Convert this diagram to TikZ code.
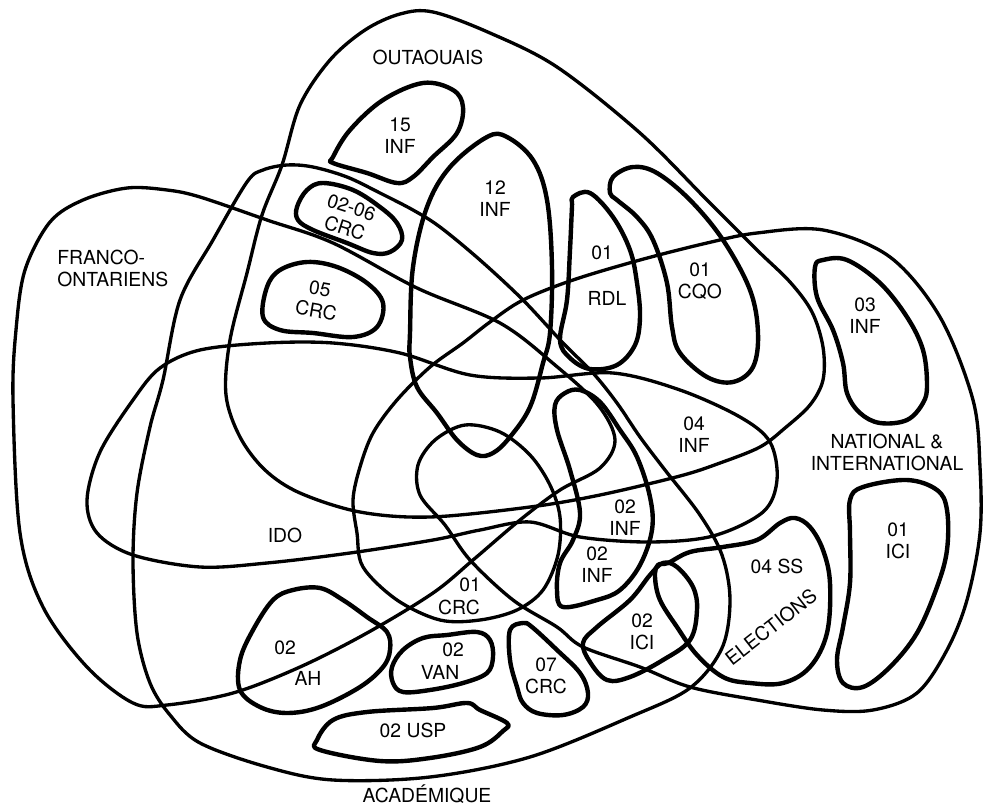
\documentclass[tikz,border=0pt]{standalone}
\usepackage{fontspec}
\setmainfont{TeX Gyre Heros}
\begin{document}
\begin{tikzpicture}[x=0.75pt,y=-0.75pt,line join=round,line cap=round]
\tikzset{
  big/.style={line width=2.5pt},
  blob/.style={line width=3.3pt},
  lbl/.style={font=\fontsize{14.5}{16.5}\selectfont,align=center,inner sep=0pt}
}
\useasboundingbox (0,0) rectangle (990,807);
\fill[white] (0,0) rectangle (990,807);

% OUTAOUAIS
\draw[big] plot[smooth cycle,tension=0.55] coordinates {(433,12) (490,33) (557,67) (640,133) (707,200) (757,250) (790,282) (812,312) (823,347) (823,380) (810,405) (785,428) (760,447) (720,463) (680,476) (600,495) (530,507) (430,517) (360,512) (300,493) (265,470) (240,437) (226,395) (230,340) (247,273) (262,215) (282,165) (300,105) (330,60) (365,30) (400,14)};
% ACADEMIQUE
\draw[big] plot[smooth cycle,tension=0.55] coordinates {(287,165) (313,167) (347,177) (380,193) (413,210) (440,227) (480,260) (523,300) (563,343) (593,373) (617,403) (640,437) (665,470) (700,515) (722,555) (730,600) (722,648) (690,688) (630,717) (530,757) (430,777) (333,780) (267,767) (200,743) (170,715) (150,683) (137,633) (133,560) (137,493) (150,427) (163,380) (180,300) (213,240) (247,182) (263,170)};
% FRANCO-ONTARIENS
\draw[big] plot[smooth cycle,tension=0.55] coordinates {(13,400) (16,330) (25,270) (50,222) (83,200) (127,188) (167,190) (200,197) (267,220) (333,243) (417,288) (500,323) (555,365) (598,405) (615,440) (600,468) (560,490) (520,520) (473,560) (433,593) (367,633) (300,667) (233,693) (167,705) (133,703) (87,667) (43,607) (20,533)};
% IDO
\draw[big] plot[smooth cycle,tension=0.55] coordinates {(87,500) (100,452) (133,400) (160,368) (200,350) (267,343) (333,343) (400,353) (470,375) (540,378) (613,373) (680,390) (740,417) (770,442) (777,480) (763,512) (713,536) (650,542) (580,537) (530,522) (480,530) (433,540) (350,553) (267,563) (200,567) (133,555) (97,533)};
% NATIONAL & INTERNATIONAL
\draw[big] plot[smooth cycle,tension=0.55] coordinates {(823,230) (757,233) (707,243) (640,260) (573,280) (523,300) (490,322) (463,343) (430,367) (397,400) (373,433) (360,467) (353,500) (357,533) (363,567) (397,600) (440,620) (480,620) (517,610) (543,590) (558,555) (560,517) (550,485) (530,455) (500,432) (465,425) (435,440) (418,465) (420,495) (445,525) (470,560) (513,600) (557,627) (583,647) (640,667) (690,687) (757,700) (823,710) (873,710) (917,693) (947,650) (967,600) (980,533) (980,467) (973,400) (940,317) (890,257)};

% blobs
\draw[blob] plot[smooth cycle,tension=0.6] coordinates {(333,157) (350,130) (383,100) (423,83) (453,90) (463,107) (457,133) (433,157) (413,177) (397,183) (367,173) (333,163)};
\draw[blob] plot[smooth cycle,tension=0.6] coordinates {(487,137) (507,137) (533,160) (547,200) (552,267) (550,333) (543,363) (530,407) (510,437) (493,453) (477,455) (457,440) (437,413) (417,387) (410,357) (410,333) (413,267) (427,207) (450,167)};
\draw[blob] plot[smooth cycle,tension=0.6] coordinates {(297,207) (307,190) (323,183) (353,190) (380,207) (397,223) (402,240) (390,252) (373,253) (347,243) (313,230) (298,220)};
\draw[blob] plot[smooth cycle,tension=0.6] coordinates {(263,317) (267,287) (280,270) (307,262) (337,267) (367,283) (383,303) (377,327) (353,337) (313,333) (280,330)};
\draw[blob] plot[smooth cycle,tension=0.6] coordinates {(573,197) (590,193) (613,217) (630,250) (637,283) (640,317) (635,345) (617,365) (590,369) (570,358) (560,340) (567,300) (570,250) (572,207)};
\draw[blob] plot[smooth cycle,tension=0.6] coordinates {(610,193) (613,177) (633,167) (657,173) (690,200) (723,240) (750,290) (758,333) (753,367) (733,382) (707,377) (680,353) (672,327) (667,283) (653,240) (637,217) (617,200)};
\draw[blob] plot[smooth cycle,tension=0.6] coordinates {(815,267) (823,260) (847,260) (880,283) (907,317) (923,350) (927,385) (923,403) (907,420) (880,423) (860,413) (847,393) (843,363) (833,330) (817,297)};
\draw[blob] plot[smooth cycle,tension=0.6] coordinates {(850,500) (863,487) (907,480) (937,490) (947,510) (947,550) (937,587) (917,633) (890,667) (863,687) (843,683) (837,660) (843,627) (850,583) (850,533)};
\draw[blob] plot[smooth cycle,tension=0.6] coordinates {(580,390) (600,402) (620,430) (637,457) (650,497) (652,530) (640,565) (620,590) (597,600) (563,607) (557,590) (560,563) (573,540) (580,513) (570,470) (557,430) (555,405) (565,393)};
\draw[blob] plot[smooth cycle,tension=0.6] coordinates {(668,563) (690,552) (723,547) (757,540) (780,523) (795,518) (810,527) (823,550) (830,583) (827,633) (810,667) (783,683) (750,683) (723,677) (697,655) (677,627) (660,600) (655,577) (658,565)};
\draw[blob] plot[smooth cycle,tension=0.6] coordinates {(583,643) (590,662) (607,680) (630,677) (663,660) (690,640) (697,610) (693,587) (677,567) (663,563) (650,575) (630,600) (597,627)};
\draw[blob] plot[smooth cycle,tension=0.6] coordinates {(240,690) (240,660) (253,630) (273,600) (293,590) (320,588) (343,600) (367,617) (387,632) (390,650) (383,667) (360,687) (320,707) (287,713) (260,707)};
\draw[blob] plot[smooth cycle,tension=0.6] coordinates {(393,683) (392,667) (403,650) (423,638) (447,635) (477,632) (490,640) (493,657) (487,673) (463,683) (430,690) (403,692)};
\draw[blob] plot[smooth cycle,tension=0.6] coordinates {(510,630) (523,623) (532,627) (557,650) (580,673) (588,693) (583,707) (563,715) (537,713) (523,703) (517,687) (510,660)};
\draw[blob] plot[smooth cycle,tension=0.6] coordinates {(320,750) (317,740) (333,720) (367,712) (433,708) (467,703) (480,710) (507,723) (503,731) (480,747) (430,758) (380,761)};

% labels
\node[lbl] (outaouais) at (428,57) {OUTAOUAIS};
\node[lbl] (inf15) at (400,136) {15\\INF};
\node[lbl] (inf12) at (495,199) {12\\INF};
\node[lbl,rotate=-18] (crc0206) at (348,218) {02-06\\CRC};
\node[lbl,rotate=-10] (crc05) at (318,300) {05\\CRC};
\node[lbl,align=left,anchor=west] (franco) at (57,268) {FRANCO-\\ONTARIENS};
\node[lbl] (rdl01) at (602,253) {01};
\node[lbl] (rdl) at (607,298) {RDL};
\node[lbl] (cqo) at (700,281) {01\\CQO};
\node[lbl] (inf03) at (865,316) {03\\INF};
\node[lbl] (ido) at (285,535) {IDO};
\node[lbl] (inf04) at (694,435) {04\\INF};
\node[lbl] (natl) at (887,452) {NATIONAL \&\\INTERNATIONAL};
\node[lbl] (inf02a) at (625,518) {02\\INF};
\node[lbl] (inf02b) at (597,565) {02\\INF};
\node[lbl] (crc01a) at (470,585) {01};
\node[lbl] (crc01b) at (459,607) {CRC};
\node[lbl] (ss04) at (777,566) {04 SS};
\node[lbl,rotate=38] (elections) at (771,627) {ELECTIONS};
\node[lbl] (ici01) at (898,541) {01\\ICI};
\node[lbl] (ah02a) at (285,648) {02};
\node[lbl] (ah02b) at (308,678) {AH};
\node[lbl] (van02a) at (453,650) {02};
\node[lbl] (van02b) at (440,672) {VAN};
\node[lbl] (crc07) at (546,676) {07\\CRC};
\node[lbl] (ici02) at (642,632) {02\\ICI};
\node[lbl] (usp) at (413,730) {02 USP};
\node[lbl,anchor=base] (academique) at (427,802) {ACADÉMIQUE};
\end{tikzpicture}
\end{document}
